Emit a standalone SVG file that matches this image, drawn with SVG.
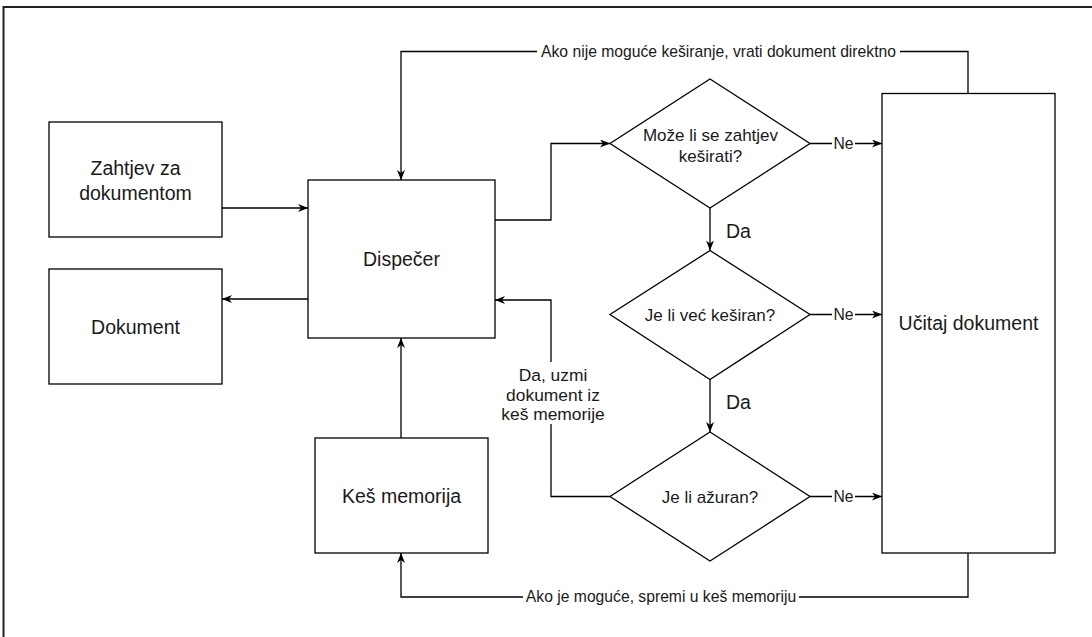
<svg xmlns="http://www.w3.org/2000/svg" width="1092" height="637" viewBox="0 0 1092 637">
<style>
.box{fill:#fff;stroke:#000;stroke-width:1.3}
.frame{fill:none;stroke:#222;stroke-width:2}
.edge{fill:none;stroke:#000;stroke-width:1.3}
.t{font-family:"Liberation Sans",Arial,sans-serif;fill:#1a1a1a;text-anchor:middle}
.n{font-size:19.5px}
.d{font-size:17px}
.l{font-size:15.7px}
.bg{fill:#fff;stroke:none}
</style>
<defs>
<marker id="arr" viewBox="0 0 10 8" refX="10" refY="4" markerWidth="10" markerHeight="8" markerUnits="userSpaceOnUse" orient="auto">
<path d="M0,0 L10,4 L0,8 L3,4 Z" fill="#000"/>
</marker>
</defs>
<rect x="0" y="0" width="1092" height="637" fill="#fff"/>
<rect class="frame" x="3.5" y="7" width="1100" height="640"/>

<g id="connectors">
<path class="edge" d="M222,208 H308" marker-end="url(#arr)"/>
<path class="edge" d="M308,299 H222" marker-end="url(#arr)"/>
<path class="edge" d="M968,93.5 V51.5 H401 V180" marker-end="url(#arr)"/>
<path class="edge" d="M401,438 V338" marker-end="url(#arr)"/>
<path class="edge" d="M968,553 V597 H401 V553" marker-end="url(#arr)"/>
<path class="edge" d="M495,220 H551 V143.5 H610" marker-end="url(#arr)"/>
<path class="edge" d="M810,143.5 H882" marker-end="url(#arr)"/>
<path class="edge" d="M710,208 V250.5" marker-end="url(#arr)"/>
<path class="edge" d="M810,314.5 H882" marker-end="url(#arr)"/>
<path class="edge" d="M710,379.5 V432" marker-end="url(#arr)"/>
<path class="edge" d="M810,496.5 H882" marker-end="url(#arr)"/>
<path class="edge" d="M610,496.5 H551 V300 H495" marker-end="url(#arr)"/>

<rect class="bg" x="537" y="43" width="363" height="17"/>
<text class="t l" x="718.5" y="57">Ako nije moguće keširanje, vrati dokument direktno</text>
<rect class="bg" x="523" y="588" width="276" height="17"/>
<text class="t l" x="661" y="601.5">Ako je moguće, spremi u keš memoriju</text>
<rect class="bg" x="832" y="135" width="23" height="17"/>
<text class="t l" x="843.5" y="149">Ne</text>
<rect class="bg" x="832" y="306" width="23" height="17"/>
<text class="t l" x="843.5" y="320">Ne</text>
<rect class="bg" x="832" y="488" width="23" height="17"/>
<text class="t l" x="843.5" y="502">Ne</text>
<text class="t n" x="726" y="238" text-anchor="start" style="text-anchor:start">Da</text>
<text class="t n" x="726" y="409" style="text-anchor:start">Da</text>
<rect class="bg" x="503" y="362" width="100" height="62"/>
<text class="t d" x="553" y="381" style="font-size:17.4px">Da, uzmi</text>
<text class="t d" x="553" y="400.5" style="font-size:17.4px">dokument iz</text>
<text class="t d" x="553" y="420" style="font-size:17.4px">keš memorije</text>
</g>

<g id="zahtjev">
<rect class="box" x="49" y="122" width="173" height="115"/>
<text class="t n" x="135.5" y="175">Zahtjev za</text>
<text class="t n" x="135.5" y="199.5">dokumentom</text>
</g>
<g id="dokument">
<rect class="box" x="49" y="269" width="173" height="115"/>
<text class="t n" x="135.5" y="333.5">Dokument</text>
</g>
<g id="dispecer">
<rect class="box" x="308" y="180" width="187" height="158"/>
<text class="t n" x="401.5" y="266">Dispečer</text>
</g>
<g id="kes">
<rect class="box" x="315" y="438" width="173" height="115"/>
<text class="t n" x="401.5" y="502.5">Keš memorija</text>
</g>
<g id="ucitaj">
<rect class="box" x="882" y="93.5" width="173" height="459.5"/>
<text class="t n" x="968.5" y="330">Učitaj dokument</text>
</g>
<g id="d1">
<polygon class="box" points="710,79 810,143.5 710,208 610,143.5"/>
<text class="t d" x="710.5" y="141">Može li se zahtjev</text>
<text class="t d" x="710.5" y="162">keširati?</text>
</g>
<g id="d2">
<polygon class="box" points="710,250.5 810,314.5 710,379.5 610,314.5"/>
<text class="t d" x="710" y="320.5">Je li već keširan?</text>
</g>
<g id="d3">
<polygon class="box" points="710,432 810,496.5 710,561 610,496.5"/>
<text class="t d" x="710" y="502.5">Je li ažuran?</text>
</g>
</svg>
